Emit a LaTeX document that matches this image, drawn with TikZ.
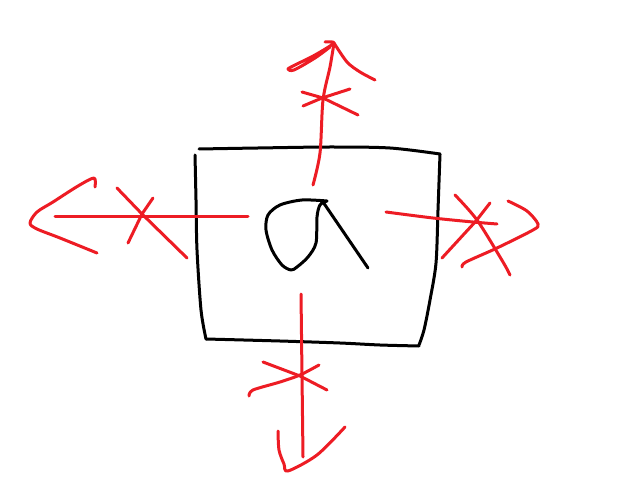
\documentclass[tikz,border=0pt]{standalone}
\definecolor{paintred}{RGB}{237,28,36}
\begin{document}
\begin{tikzpicture}[x=1pt,y=-1pt]
    \tikzstyle{ink}=[draw=black,line width=3pt,line cap=round,line join=round]
    \tikzstyle{redink}=[draw=paintred,line width=3pt,line cap=round,line join=round]
    \useasboundingbox (0,0) rectangle (617,486);
    % box
    \draw[ink] plot[smooth] coordinates {(199,149) (258,148) (330,147) (390,148) (440,154)};
    \draw[ink] plot[smooth] coordinates {(440,154) (438,210) (436,263) (430,300) (424,330) (419,345)};
    \draw[ink] plot[smooth] coordinates {(419,346) (380,345) (340,343) (280,341) (206,339)};
    \draw[ink] plot[smooth] coordinates {(206,339) (201,310) (197,250) (196,200) (195,155)};
    % alpha
    \draw[ink] plot[smooth] coordinates {(327,201) (302,200) (280,205) (268,215) (266,230) (272,250) (282,265) (291,270) (297,267) (308,257) (316,243) (317,217) (320,205) (327,201)};
    \draw[ink] (323,202) -- (368,268);
    % up arrow
    \draw[redink] plot[smooth] coordinates {(313,185) (320,153) (323,100) (330,67) (334,43)};
    \draw[redink] plot[smooth] coordinates {(325,42) (334,43) (315,55) (295,65) (288,69) (294,70) (315,58) (330,47)};
    \draw[redink] plot[smooth] coordinates {(334,43) (347,62) (360,72) (375,80)};
    \draw[redink] (302,92) -- (323,98) -- (358,115);
    \draw[redink] (303,106) -- (322,98) -- (350,89);
    % left arrow
    \draw[redink] (55,216) -- (248,216);
    \draw[redink] plot[smooth] coordinates {(95,187) (94,178) (78,186) (53,202) (37,212) (30,223) (37,229) (60,238) (97,253)};
    \draw[redink] (117,188) -- (142,214) -- (187,258);
    \draw[redink] (153,198) -- (142,214) -- (128,243);
    % right arrow
    \draw[redink] plot[smooth] coordinates {(386,212) (433,218) (473,222) (497,224)};
    \draw[redink] plot[smooth] coordinates {(455,195) (477,220) (503,262) (510,275)};
    \draw[redink] (490,203) -- (476,221) -- (442,258);
    \draw[redink] plot[smooth] coordinates {(508,201) (527,211) (538,224) (533,230) (497,248) (466,262) (462,267)};
    % down arrow
    \draw[redink] (301,294) -- (303,457);
    \draw[redink] (263,362) -- (300,376) -- (327,390);
    \draw[redink] plot[smooth] coordinates {(249,396) (253,390) (280,382) (300,375) (319,365)};
    \draw[redink] plot[smooth] coordinates {(278,431) (279,450) (284,464) (288,471) (317,455) (345,427)};
\end{tikzpicture}
\end{document}
